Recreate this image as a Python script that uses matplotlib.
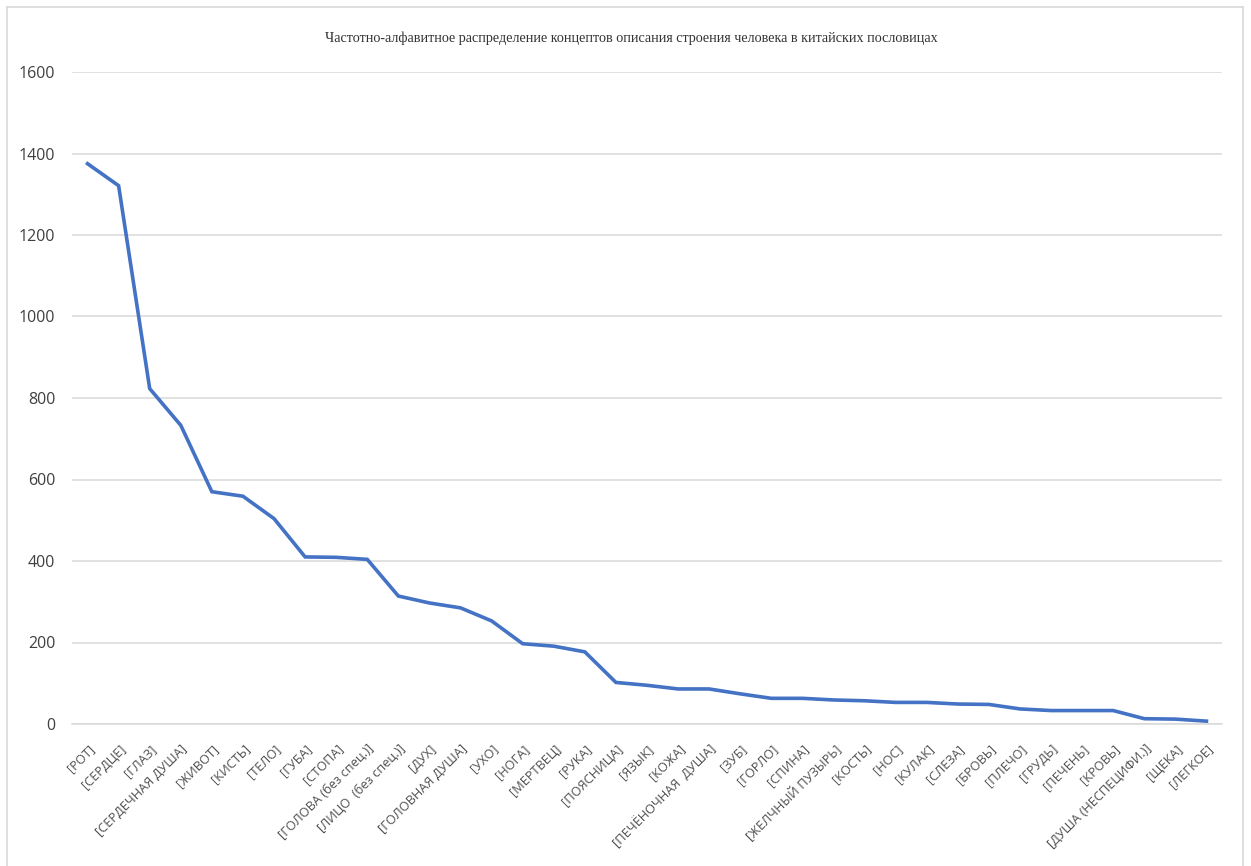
import matplotlib
matplotlib.use("Agg")
import matplotlib.pyplot as plt
from matplotlib.lines import Line2D

# Concepts and their frequencies
concepts = [
    "[РОТ]", "[СЕРДЦЕ]", "[ГЛАЗ]", "[СЕРДЕЧНАЯ ДУША]", "[ЖИВОТ]", "[КИСТЬ]",
    "[ТЕЛО]", "[ГУБА]", "[СТОПА]", "[ГОЛОВА (без спец.)]", "[ЛИЦО  (без спец.)]",
    "[ДУХ]", "[ГОЛОВНАЯ ДУША]", "[УХО]", "[НОГА]", "[МЕРТВЕЦ]", "[РУКА]",
    "[ПОЯСНИЦА]", "[ЯЗЫК]", "[КОЖА]", "[ПЕЧЁНОЧНАЯ  ДУША]", "[ЗУБ]", "[ГОРЛО]",
    "[СПИНА]", "[ЖЕЛЧНЫЙ ПУЗЫРЬ]", "[КОСТЬ]", "[НОС]", "[КУЛАК]", "[СЛЕЗА]",
    "[БРОВЬ]", "[ПЛЕЧО]", "[ГРУДЬ]", "[ПЕЧЕНЬ]", "[КРОВЬ]",
    "[ДУША (НЕСПЕЦИФИ.)]", "[ЩЕКА]", "[ЛЕГКОЕ]",
]
frequencies = [
    1375, 1321, 823, 733, 570, 559,
    504, 410, 409, 404, 314,
    297, 285, 253, 197, 191, 177,
    102, 95, 86, 86, 74, 63,
    63, 59, 57, 53, 53, 49,
    48, 37, 33, 33, 33,
    13, 12, 7,
]
y_ticks = [0, 200, 400, 600, 800, 1000, 1200, 1400, 1600]

title = ("Частотно-алфавитное распределение концептов описания "
         "строения человека в китайских пословицах")

W, H = 1251, 866
fig = plt.figure(figsize=(W / 100, H / 100), dpi=100)
fig.patch.set_facecolor("white")

# chart frame
frame_col = "#d9d9d9"
fx0, fx1, fy1 = 7 / W, 1243 / W, 1 - 7 / H
for xs, ys in (([fx0, fx0], [0, fy1]), ([fx0, fx1], [fy1, fy1]), ([fx1, fx1], [fy1, 0])):
    fig.add_artist(Line2D(xs, ys, color=frame_col, lw=1.2, transform=fig.transFigure))

ax = fig.add_axes([72 / W, 1 - 724 / H, (1222 - 72) / W, (724 - 72) / H])
ax.set_facecolor("white")

x = list(range(len(concepts)))
ax.plot(x, frequencies, color="#4472C4", lw=2.6, solid_joinstyle="miter", zorder=3)

ax.set_xlim(-0.5, len(concepts) - 0.5)
ax.set_ylim(0, 1600)
ax.set_yticks(y_ticks)
ax.set_yticklabels([str(v) for v in y_ticks], fontsize=11.5, color="#404040",
                   family=["Open Sans", "DejaVu Sans"])
ax.grid(axis="y", color="#d9d9d9", lw=1.1, zorder=0)
ax.set_axisbelow(True)

ax.set_xticks(x)
ax.set_xticklabels(concepts, rotation=45, ha="right", rotation_mode="anchor",
                   fontsize=9.2, color="#505050", family=["Open Sans", "DejaVu Sans"])
ax.tick_params(axis="y", length=0, pad=12)
ax.tick_params(axis="x", length=0, pad=13)

for s in ("top", "right", "left"):
    ax.spines[s].set_visible(False)
ax.spines["bottom"].set_color("#d9d9d9")
ax.spines["bottom"].set_linewidth(1.1)

fig.text(631 / W, 1 - 38 / H, title, ha="center", va="center", fontsize=10.2,
         color="#333333", family=["Liberation Serif", "DejaVu Serif"])

fig.savefig("out.png", dpi=100, facecolor="white")
